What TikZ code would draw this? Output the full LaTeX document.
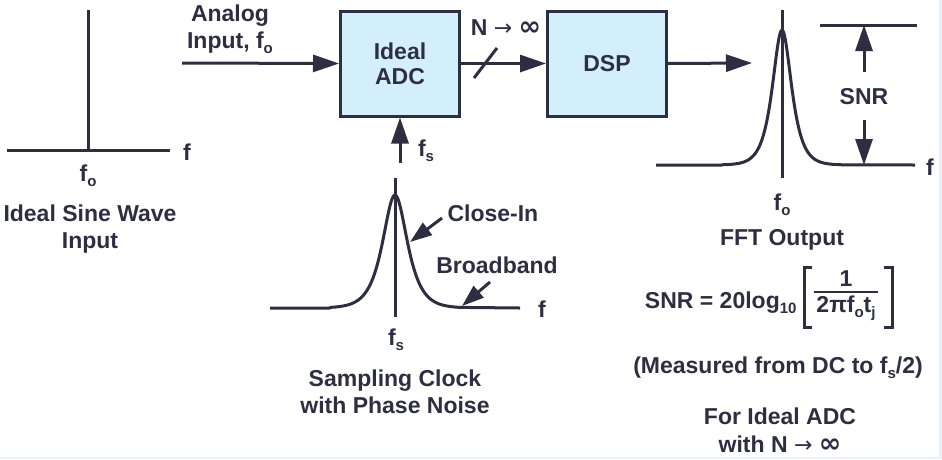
\documentclass[tikz,border=0pt]{standalone}
\usepackage{fontspec}
\setmainfont{Liberation Sans}
\newfontfamily\symfont{DejaVu Sans}
\usetikzlibrary{arrows.meta}
\definecolor{ink}{RGB}{46,46,66}
\definecolor{boxfill}{RGB}{211,240,250}
\definecolor{edgebg}{RGB}{236,241,248}
\newcommand{\sbs}[1]{\raisebox{-0.4ex}{\fontsize{15}{15}\selectfont #1}}
\newcommand{\inft}{{\symfont\bfseries\fontsize{27}{27}\selectfont ∞}}
\newcommand{\toarr}{{\symfont\mdseries\fontsize{22}{22}\selectfont →}}
\begin{document}
\begin{tikzpicture}[x=1pt,y=-1pt, line width=3pt, draw=ink,
  txt/.style={font=\fontsize{23}{27}\selectfont\bfseries, text=ink, inner sep=0pt, align=center},
  blk/.style={draw=ink, fill=boxfill, line width=3pt, minimum width=119pt, minimum height=105pt, inner sep=0pt,
    font=\fontsize{23}{25}\selectfont\bfseries, text=ink, align=center},
  arr/.style={draw=ink, -{Triangle[length=26pt,width=17pt]}},
  sarr/.style={draw=ink, -{Triangle[length=22pt,width=15pt]}},
  curve/.style={draw=ink, line width=3pt, line join=round}]
\useasboundingbox (0,0) rectangle (942,459);
\fill[edgebg] (939,0) rectangle (942,459);
\fill[edgebg] (0,457) rectangle (942,459);

% ---- left: ideal sine spectrum
\coordinate (sbl) at (7,150);
\coordinate (sbr) at (170,150);
\coordinate (stop) at (88,10);
\coordinate (sbot) at (88,150);
\draw (sbl) -- (sbr);
\draw (stop) -- (sbot);
\node[txt] (f1) at (187,152) {f};
\node[txt] (fo1) at (88,176) {f\sbs{o}};
\node[txt] (ideal) at (90,229) {Ideal Sine Wave\\Input};

% ---- blocks
\node[blk] (adc) at (400,63.5) {Ideal\\ADC};
\node[blk] (dsp) at (607,63.5) {DSP};

\coordinate (ain) at (182,63);
\draw[arr] (ain) -- (adc.west);
\node[txt] (alab) at (230,29) {Analog\\Input, f\sbs{o}};

\draw[arr] (adc.east) -- (dsp.west);
\coordinate (sl1) at (474,78);
\coordinate (sl2) at (497,48);
\draw (sl1) -- (sl2);
\node[txt] (nlab) at (506,28) {N \toarr{} \inft};

\coordinate (fsin) at (400,163);
\draw[arr] (fsin) -- (adc.south);
\node[txt] (fslab) at (426,151) {f\sbs{s}};

\coordinate (dout) at (752,63);
\draw[arr] (dsp.east) -- (dout);

% ---- FFT output spectrum
\coordinate (ftop) at (782,10);
\coordinate (fbot) at (782,178);
\draw[curve] (656,165) -- (722,165)
  -- plot[domain=-60:60, samples=121, smooth] ({782+\x},{165-135/cosh(\x/8.5)})
  -- (915,165);
\draw (ftop) -- (fbot);
\node[txt] (f3) at (930,167) {f};
\node[txt] (fo3) at (782,205) {f\sbs{o}};
\node[txt] (fftlab) at (782,240) {FFT Output};

\coordinate (snrl) at (820,25);
\coordinate (snrr) at (917,25);
\draw (snrl) -- (snrr);
\coordinate (snrtop) at (864,25);
\coordinate (snrbot) at (864,165);
\node[txt] (snr) at (864,97) {SNR};
\draw[arr] (864,72) -- (snrtop);
\draw[arr] (864,120) -- (snrbot);

% ---- sampling clock spectrum
\coordinate (ctop) at (395,178);
\coordinate (cbot) at (395,317);
\draw[curve] (270,308) -- (330,308)
  -- plot[domain=-65:65, samples=131, smooth] ({395+\x},{308-113/cosh(\x/11)})
  -- (520,308);
\draw (ctop) -- (cbot);
\node[txt] (f2) at (542,309) {f};
\node[txt] (fs2) at (396,340) {f\sbs{s}};
\node[txt] (samp) at (395,392) {Sampling Clock\\with Phase Noise};

\node[txt, anchor=west] (closein) at (446,213) {Close-In};
\coordinate (cin) at (410,242);
\draw[sarr] (closein.west) ++(-4,5) -- (cin);
\node[txt] (bband) at (497,265) {Broadband};
\coordinate (bbt) at (462,306);
\draw[sarr] (490,282) -- (bbt);

% ---- formula
\node[txt, anchor=east] (snrf) at (798,303) {SNR = 20log\sbs{10}};
\draw (812,267) -- (804,267) -- (804,327) -- (812,327);
\draw (884,267) -- (892,267) -- (892,327) -- (884,327);
\draw[line width=2pt] (814,292) -- (878,292);
\node[txt] (num) at (846,279) {1};
\node[txt] (den) at (846,308) {2πf\sbs{o}t\sbs{j}};

\node[txt] (meas) at (778,368) {(Measured from DC to f\sbs{s}/2)};
\node[txt] (forid1) at (780,416) {For Ideal ADC};
\node[txt] (forid2) at (780,444) {with N \toarr{} \inft};
\end{tikzpicture}
\end{document}
